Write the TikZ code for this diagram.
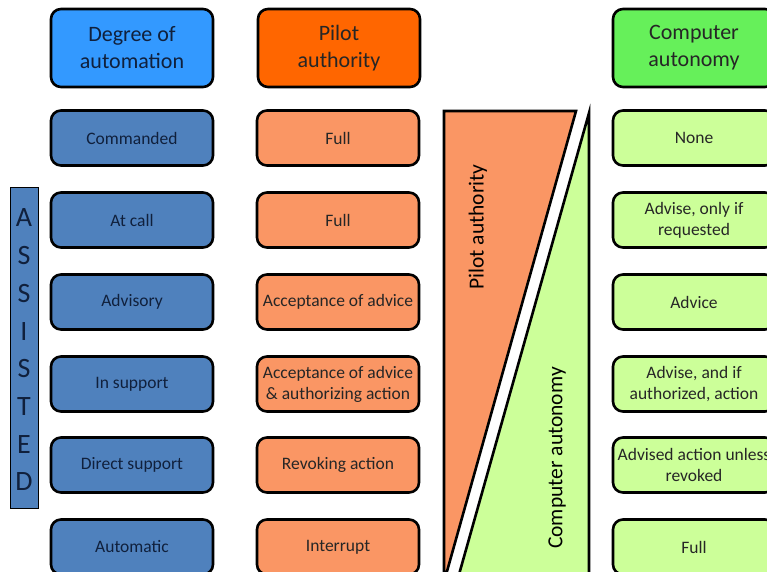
\documentclass[tikz,border=0pt]{standalone}
\usepackage{fontspec}
\setmainfont{Carlito}
\usetikzlibrary{positioning}

\definecolor{hdblue}{RGB}{51,153,255}
\definecolor{hdorange}{RGB}{255,102,0}
\definecolor{hdgreen}{RGB}{102,240,90}
\definecolor{rowblue}{RGB}{79,129,189}
\definecolor{roworange}{RGB}{250,150,100}
\definecolor{rowgreen}{RGB}{204,255,153}
\definecolor{navytext}{RGB}{16,32,60}

\begin{document}
\begin{tikzpicture}[x=1pt,y=-1pt,
  box/.style={draw=black,line width=2.6pt,rounded corners=10pt,minimum width=162pt,minimum height=55pt,align=center,font=\fontsize{17.5}{21}\selectfont,inner sep=1pt},
  head/.style={box,minimum height=78pt,font=\fontsize{22}{27}\selectfont},
  auto/.style={box,fill=rowblue,text=navytext},
  pilot/.style={box,fill=roworange,text=black!85},
  comp/.style={box,fill=rowgreen,text=black!85}]

\useasboundingbox (0,0) rectangle (767,571);
\clip (0,0) rectangle (767,571);

% column headers
\node[head,fill=hdblue,text=navytext] (hauto) at (132,48) {Degree of\\automation};
\node[head,fill=hdorange,text=black!85] (hpilot) at (339,48) {Pilot\\authority};
\node[head,fill=hdgreen,text=black!85] (hcomp) at (694,48) {Computer\\autonomy};

% degree of automation
\node[auto] (commanded) at (132,138) {Commanded};
\node[auto] (atcall) at (132,220) {At call};
\node[auto] (advisory) at (132,302) {Advisory};
\node[auto] (insupport) at (132,384) {In support};
\node[auto] (direct) at (132,465) {Direct support};
\node[auto] (automatic) at (132,547) {Automatic};

% pilot authority
\node[pilot] (pfull) at (338,138) {Full};
\node[pilot] (pfulltwo) at (338,220) {Full};
\node[pilot] (accept) at (338,302) {Acceptance of advice};
\node[pilot] (authorize) at (338,384) {Acceptance of advice\\\& authorizing action};
\node[pilot] (revoking) at (338,465) {Revoking action};
\node[pilot] (interrupt) at (338,547) {Interrupt};

% computer autonomy
\node[comp] (none) at (694,138) {None};
\node[comp] (onrequest) at (694,220) {Advise, only if\\requested};
\node[comp] (advice) at (694,302) {Advice};
\node[comp] (authorized) at (694,384) {Advise, and if\\authorized, action};
\node[comp] (unless) at (694,465) {Advised action unless\\revoked};
\node[comp] (cfull) at (694,547) {Full};

% assisted bar
\node[draw=black,line width=0.8pt,fill=rowblue,minimum width=28pt,minimum height=321pt,inner sep=0pt] (assisted) at (24,347.5) {};
\foreach \ch [count=\i from 0] in {A,S,S,I,S,T,E,D}
  \node[font=\fontsize{28}{28}\selectfont,text=navytext] (as\i) at (24,218+37.7*\i) {\ch};

% sharing of authority
\draw[line width=2.6pt,fill=roworange,line join=miter] (444,111) -- (576,111) -- (444,582) -- cycle;
\draw[line width=2.6pt,fill=rowgreen,line join=miter] (589,113) -- (589,610) -- (449,610) -- cycle;
\node[rotate=90,font=\fontsize{21.5}{24}\selectfont] (pilotlabel) at (478,227) {Pilot authority};
\node[rotate=90,font=\fontsize{21.5}{24}\selectfont] (complabel) at (557,458) {Computer autonomy};
\end{tikzpicture}
\end{document}
